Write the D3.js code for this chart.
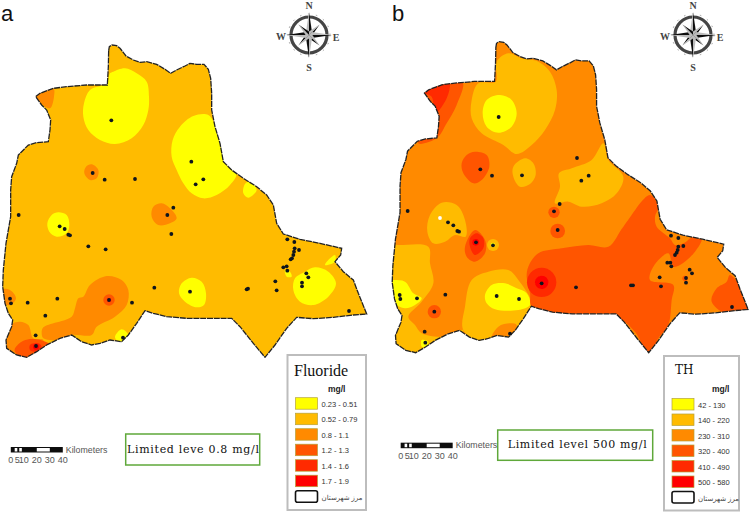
<!DOCTYPE html>
<html>
<head>
<meta charset="utf-8">
<script src="https://cdn.jsdelivr.net/npm/d3@7"></script>
<style>
  html, body { margin: 0; padding: 0; background: #fff; }
  svg { display: block; }
</style>
</head>
<body>
<svg id="chart" width="750" height="512"></svg>
<script>
// county outline (same shape in both maps)
const boundary = [[326,62],[328,50],[336,45],[350,47],[360,55],[372,70],[378,78],[400,90],[420,97],[440,95],[470,103],[495,118],[512,130],[530,120],[555,108],[570,100],[590,103],[612,103],[625,118],[632,145],[635,190],[635,240],[645,290],[660,340],[670,395],[695,420],[730,445],[770,470],[800,495],[820,525],[830,580],[850,612],[900,628],[960,640],[1025,655],[1022,675],[1005,695],[1030,725],[1060,750],[1075,790],[1100,852],[1060,855],[1000,862],[940,866],[890,862],[860,895],[825,945],[795,982],[760,940],[720,890],[695,865],[640,865],[560,865],[500,860],[460,850],[435,842],[410,880],[385,915],[365,935],[330,930],[300,940],[275,945],[245,935],[215,915],[180,925],[140,945],[110,965],[80,982],[50,975],[20,955],[18,930],[35,890],[38,870],[25,850],[15,820],[8,770],[10,720],[18,640],[32,560],[32,480],[35,440],[50,400],[55,375],[85,345],[110,338],[145,335],[150,300],[152,270],[140,240],[125,225],[107,200],[120,190],[160,175],[200,170],[260,165],[322,165],[325,110]];

// class colours, lowest to highest
const classColors = ["#ffff00", "#ffbb00", "#ff8a00", "#ff5500", "#ff2a00", "#ff0000"];

// Fluoride map
const fluorideLabels = ["0.23 - 0.51", "0.52 - 0.79", "0.8 - 1.1", "1.2 - 1.3", "1.4 - 1.6", "1.7 - 1.9"];
const fluorideBase = 1;
const fluorideZones = [
  [0, [[340,125],[375,115],[410,130],[440,155],[447,200],[445,240],[430,285],[395,325],[345,342],[300,330],[265,300],[250,260],[252,220],[270,180],[320,160],[330,130]]],
  [0, [[580,258],[625,255],[650,300],[680,395],[710,430],[690,465],[650,495],[610,505],[575,490],[550,460],[530,420],[515,380],[518,330],[540,290]]],
  [0, [[735,462],[750,455],[770,480],[745,503],[730,490]]],
  [0, [[175,547],[200,555],[208,585],[200,610],[170,620],[148,605],[142,580],[155,555]]],
  [0, [[575,743],[605,755],[618,790],[612,825],[590,832],[555,815],[537,790],[545,760]]],
  [0, [[945,712],[985,725],[1008,760],[985,800],[940,825],[900,815],[880,780],[885,745],[915,725]]],
  [0, [[985,690],[1005,675],[1005,695],[975,705]]],
  [0, [[855,720],[870,725],[875,740],[860,740]]],
  [0, [[880,870],[890,885],[875,890]]],
  [0, [[365,898],[385,915],[375,935],[350,930],[345,920]]],
  [2, [[100,195],[160,175],[162,200],[150,235],[125,222]]],
  [2, [[275,403],[295,420],[290,445],[270,450],[253,430],[258,410]]],
  [2, [[485,520],[510,535],[530,565],[510,580],[475,585],[455,560],[460,530]]],
  [2, [[320,738],[365,750],[385,780],[380,825],[345,860],[290,890],[275,915],[215,915],[170,930],[130,925],[125,910],[130,892],[215,860],[225,835],[235,805],[250,800],[270,765]]],
  [2, [[0,780],[30,780],[48,805],[30,825],[0,815]]],
  [2, [[30,885],[60,875],[85,885],[100,925],[130,930],[110,980],[80,995],[10,960],[10,920]]],
  [3, [[70,932],[110,928],[150,945],[110,975],[80,990],[45,965],[45,955]]],
  [4, [[90,945],[115,940],[125,950],[105,965],[90,960]]]
];
const fluorideSpots = [[327,810,17,3],[327,810,7,4],[108,950,9,5]];
const fluorideWells = [[334,271],[574,395],[278,429],[314,449],[405,447],[610,448],[587,463],[520,533],[502,555],[56,555],[179,589],[194,597],[205,614],[210,616],[514,612],[265,649],[317,658],[862,628],[883,636],[897,660],[884,655],[882,665],[880,675],[876,685],[872,688],[850,712],[860,709],[862,722],[919,730],[925,742],[906,758],[906,769],[826,754],[830,781],[740,778],[744,776],[463,773],[570,785],[30,806],[33,820],[83,818],[172,806],[327,810],[396,818],[136,857],[107,916],[369,923],[108,948],[1047,843]];

// TH map
const hardnessLabels = ["42 - 130", "140 - 220", "230 - 310", "320 - 400", "410 - 490", "500 - 580"];
const hardnessBase = 2;
const hardnessZones = [
  [1, [[365,95],[400,70],[440,85],[490,95],[525,125],[545,180],[540,240],[510,300],[470,345],[425,372],[385,345],[320,310],[290,265],[290,210],[310,160],[362,155]]],
  [1, [[450,385],[475,400],[482,435],[465,462],[435,470],[415,440],[415,410]]],
  [1, [[685,340],[700,390],[745,440],[725,490],[680,520],[620,530],[580,515],[540,520],[555,470],[552,430],[590,415],[650,390]]],
  [1, [[200,518],[245,525],[270,570],[272,620],[240,615],[210,635],[175,640],[157,605],[165,555]]],
  [1, [[30,645],[70,645],[160,650],[165,700],[175,760],[140,815],[100,860],[120,885],[140,910],[205,920],[265,900],[200,985],[100,990],[40,950],[20,800]]],
  [1, [[290,750],[340,725],[400,720],[430,750],[470,825],[430,890],[405,925],[330,945],[265,900],[270,830]]],
  [0, [[375,195],[410,210],[425,250],[410,290],[370,308],[335,290],[323,250],[335,210]]],
  [0, [[30,750],[55,750],[90,755],[115,790],[140,805],[120,825],[90,835],[55,820],[30,800]]],
  [0, [[330,795],[350,765],[390,760],[425,775],[455,790],[465,825],[430,840],[360,838],[335,820]]],
  [0, [[140,930],[160,935],[155,950],[140,950]]],
  [2, [[350,925],[370,890],[405,880],[425,885],[405,920]]],
  [3, [[140,175],[262,155],[245,225],[215,280],[185,325],[130,340],[150,290]]],
  [4, [[140,185],[222,155],[215,205],[180,250],[170,200]]],
  [3, [[300,365],[335,375],[343,410],[320,450],[295,460],[265,430],[260,400],[275,375]]],
  [3, [[270,650],[300,600],[330,630],[330,670],[300,695],[275,680]]],
  [4, [[305,610],[325,625],[325,655],[300,675],[285,650],[285,625]]],
  [3, [[460,710],[490,670],[560,655],[640,645],[700,650],[745,590],[825,495],[850,530],[840,560],[845,590],[885,625],[900,645],[925,640],[955,620],[980,625],[960,665],[915,705],[895,710],[880,670],[835,710],[825,750],[895,765],[890,810],[880,885],[850,925],[822,975],[780,905],[720,860],[560,860],[470,830],[465,790],[455,740]]],
  [3, [[1065,735],[1130,835],[1065,855],[1010,815],[1025,775],[1055,755]]]
];
const hardnessSpots = [[354,645,18,1],[354,645,7,0],[537,547,17,3],[548,603,22,3],[178,845,20,3],[930,745,8,3],[500,757,44,4],[500,757,20,5],[302,637,10,5]];
const hardnessWells = [[371,261],[606,384],[316,418],[351,437],[441,436],[641,437],[619,452],[554,522],[537,544],[98,543],[219,577],[235,586],[247,603],[252,605],[548,600],[303,637],[354,646],[888,617],[910,624],[925,648],[910,650],[908,660],[905,668],[900,675],[877,698],[886,698],[889,709],[944,719],[951,730],[933,744],[933,758],[854,742],[858,769],[768,766],[774,766],[603,772],[500,760],[74,795],[76,807],[126,805],[211,794],[365,798],[432,807],[178,845],[149,905],[405,911],[151,938],[1071,831]];
const hardnessWhiteWells = [[195,564]];

const scaleKm = [0, 5, 10, 20, 30, 40];
const scaleWhite = [[3, 5], [6.5, 8.5], [20, 30]];
const borderLabel = "مرز شهرستان";

const svg = d3.select("#chart");
const defs = svg.append("defs");

// the reference is a soft scan, so blur the maps a little
defs.append("filter").attr("id", "soft")
  .append("feGaussianBlur").attr("stdDeviation", 0.5);

function drawMap(id, o) {
  const x = d3.scaleLinear().domain([0, 1125]).range(o.xRange);
  const y = d3.scaleLinear().domain([0, 1020]).range([30, 370]);
  // outline is traced in panel a, panel b has it slightly narrower
  const bx = d3.scaleLinear().domain([0, 1125]).range(o.boundaryX);
  const by = d3.scaleLinear().domain([0, 1020]).range(o.boundaryY);
  const r = d3.scaleLinear().domain([0, 1125]).range([0, 375]);

  const outline = d3.line().x(d => bx(d[0])).y(d => by(d[1])).curve(d3.curveLinearClosed);
  const zone = d3.line().x(d => x(d[0])).y(d => y(d[1])).curve(d3.curveCatmullRomClosed);

  defs.append("clipPath").attr("id", "clip-" + id)
    .append("path").attr("d", outline(boundary));

  const g = svg.append("g").attr("filter", "url(#soft)");
  const inner = g.append("g").attr("clip-path", "url(#clip-" + id + ")");

  inner.append("path").attr("d", outline(boundary)).attr("fill", classColors[o.base]);

  inner.selectAll("path.zone").data(o.zones).enter().append("path")
    .attr("class", "zone")
    .attr("d", d => zone(d[1]))
    .attr("fill", d => classColors[d[0]]);

  inner.selectAll("circle.spot").data(o.spots).enter().append("circle")
    .attr("class", "spot")
    .attr("cx", d => x(d[0]))
    .attr("cy", d => y(d[1]))
    .attr("r", d => r(d[2]))
    .attr("fill", d => classColors[d[3]]);

  // outline looks a bit broken up in the scan
  g.append("path").attr("d", outline(boundary))
    .attr("fill", "none")
    .attr("stroke", "#222")
    .attr("stroke-width", 1.3)
    .attr("stroke-dasharray", "6 0.8");

  g.selectAll("circle.well").data(o.wells).enter().append("circle")
    .attr("class", "well")
    .attr("cx", d => x(d[0]))
    .attr("cy", d => y(d[1]))
    .attr("r", 1.9)
    .attr("fill", "#10131f");

  g.selectAll("circle.white").data(o.whiteWells || []).enter().append("circle")
    .attr("class", "white")
    .attr("cx", d => x(d[0]))
    .attr("cy", d => y(d[1]))
    .attr("r", 1.9)
    .attr("fill", "#fff");
}

function drawCompass(cx, cy) {
  const g = svg.append("g").attr("transform", "translate(" + cx + "," + cy + ")").attr("filter", "url(#soft)");
  g.append("circle").attr("r", 18).attr("fill", "#fff").attr("stroke", "#444").attr("stroke-width", 3.2);
  g.append("circle").attr("r", 21).attr("fill", "none").attr("stroke", "#999").attr("stroke-width", 1).attr("stroke-dasharray", "1.5 6.6");

  // four long points and four short ones, each half dark half light
  d3.range(0, 360, 45).forEach(a => {
    const long = a % 90 === 0;
    const len = long ? 23 : 15;
    const w = long ? 3 : 2.4;
    const p = g.append("g").attr("transform", "rotate(" + a + ")");
    p.append("path").attr("d", d3.line()([[0, -len], [w, -w], [0, 0]])).attr("fill", "#111");
    p.append("path").attr("d", d3.line()([[0, -len], [-w, -w], [0, 0]])).attr("fill", "#bbb");
  });

  const letters = [["N", 0, -26], ["S", 0, 36], ["W", -28, 5], ["E", 27, 6]];
  svg.append("g").selectAll("text").data(letters).enter().append("text")
    .attr("x", d => cx + d[1])
    .attr("y", d => cy + d[2])
    .attr("text-anchor", "middle")
    .attr("font-family", "Liberation Serif")
    .attr("font-weight", "bold")
    .attr("font-size", 10)
    .attr("fill", "#444")
    .text(d => d[0]);
}

function drawScaleBar(x0, y0) {
  const x = d3.scaleLinear().domain([0, 40]).range([x0, x0 + 52]);
  const g = svg.append("g").attr("filter", "url(#soft)");
  g.append("rect").attr("x", x(0)).attr("y", y0).attr("width", x(40) - x(0)).attr("height", 5.5).attr("fill", "#111");
  g.selectAll("rect.w").data(scaleWhite).enter().append("rect")
    .attr("class", "w")
    .attr("x", d => x(d[0]))
    .attr("y", y0 + 1)
    .attr("width", d => x(d[1]) - x(d[0]))
    .attr("height", 3.5)
    .attr("fill", "#fff");

  svg.append("text").attr("x", x0 + 55).attr("y", y0 + 5.5)
    .attr("font-family", "Liberation Sans").attr("font-size", 8.8).attr("fill", "#555")
    .text("Kilometers");

  svg.selectAll(null).data(scaleKm).enter().append("text")
    .attr("x", d => x(d))
    .attr("y", y0 + 16)
    .attr("text-anchor", "middle")
    .attr("font-family", "Liberation Sans").attr("font-size", 9).attr("fill", "#555")
    .text(d => d);
}

function drawNote(x0, y0, w, h, textX, textW, baseline, label) {
  svg.append("rect").attr("x", x0).attr("y", y0).attr("width", w).attr("height", h)
    .attr("fill", "#fff").attr("stroke", "#5fa83a").attr("stroke-width", 1.5);
  svg.append("text").attr("x", textX).attr("y", baseline)
    .attr("font-family", "DejaVu Serif").attr("font-size", 11).attr("fill", "#111")
    .attr("textLength", textW).attr("lengthAdjust", "spacing")
    .text(label);
}

function drawLegend(o) {
  const g = svg.append("g");
  g.append("rect").attr("x", o.x).attr("y", o.y).attr("width", o.w).attr("height", o.h)
    .attr("fill", "#fff").attr("stroke", "#bdbdbd").attr("stroke-width", 2);

  g.append("text").attr("x", o.titleX).attr("y", o.titleY)
    .attr("font-family", o.titleFont).attr("font-size", o.titleSize).attr("fill", "#111")
    .text(o.title);
  g.append("text").attr("x", o.unitX).attr("y", 392)
    .attr("font-family", "Liberation Sans").attr("font-weight", "bold").attr("font-size", 8.5).attr("fill", "#222")
    .text("mg/l");

  const row = d3.scaleBand().domain(d3.range(7)).range([o.rowY, o.rowY + 7 * 15.5]);

  g.selectAll("rect.swatch").data(classColors).enter().append("rect")
    .attr("class", "swatch")
    .attr("x", o.swatchX)
    .attr("y", (d, i) => row(i))
    .attr("width", 22)
    .attr("height", 11.5)
    .attr("fill", d => d)
    .attr("stroke", "#b5a23a")
    .attr("stroke-width", 0.7);

  g.append("rect").attr("x", o.swatchX).attr("y", row(6)).attr("width", 22).attr("height", 11.5)
    .attr("rx", 2).attr("fill", "#fff").attr("stroke", "#111").attr("stroke-width", 1.6);

  g.selectAll("text.lab").data(o.labels).enter().append("text")
    .attr("class", "lab")
    .attr("x", o.swatchX + 26)
    .attr("y", (d, i) => row(i) + 9)
    .attr("font-family", "Liberation Sans").attr("font-size", 7.5).attr("fill", "#333")
    .text(d => d);

  g.append("text").attr("x", o.swatchX + 26).attr("y", row(6) + 9)
    .attr("font-family", "Noto Sans, DejaVu Sans").attr("font-size", 7).attr("fill", "#444")
    .text(borderLabel);
}

drawMap("a", {
  xRange: [0, 375], boundaryX: [0, 375], boundaryY: [30, 370],
  base: fluorideBase, zones: fluorideZones, spots: fluorideSpots, wells: fluorideWells
});
drawMap("b", {
  xRange: [375, 750], boundaryX: [389.6, 756.3], boundaryY: [26.7, 365.3],
  base: hardnessBase, zones: hardnessZones, spots: hardnessSpots, wells: hardnessWells,
  whiteWells: hardnessWhiteWells
});

drawCompass(309, 35);
drawCompass(693, 35);

drawScaleBar(10.8, 447);
drawScaleBar(400.7, 442.7);

drawNote(125.7, 434, 134, 31, 127, 132, 452.7, "Limited leve 0.8 mg/l");
drawNote(497.7, 430, 155, 30.3, 507.7, 139, 447.7, "Limited level 500 mg/l");

drawLegend({
  x: 287.5, y: 355, w: 78.5, h: 155, title: "Fluoride", titleX: 294, titleY: 376,
  titleFont: "Liberation Serif", titleSize: 16, unitX: 328, rowY: 397.7, swatchX: 295.5, labels: fluorideLabels
});
drawLegend({
  x: 664, y: 356, w: 75, h: 154.5, title: "TH", titleX: 675, titleY: 374,
  titleFont: "DejaVu Serif", titleSize: 12, unitX: 712, rowY: 398.5, swatchX: 672, labels: hardnessLabels
});

// panel letters
svg.selectAll("text.panel").data([["a", 1], ["b", 392]]).enter().append("text")
  .attr("class", "panel")
  .attr("x", d => d[1])
  .attr("y", 21)
  .attr("font-family", "Liberation Sans")
  .attr("font-size", 22)
  .attr("fill", "#111")
  .text(d => d[0]);
</script>
</body>
</html>
